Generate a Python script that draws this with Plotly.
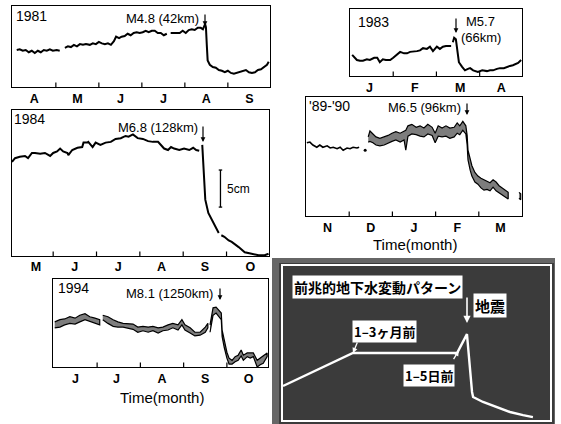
import plotly.graph_objects as go

W, H = 561, 424
FONT = "Liberation Sans, Arial, sans-serif"
JFONT = "Noto Sans CJK JP, Noto Sans CJK SC, sans-serif"

# ---------------- data (x = months from start of axis, y = water level in cm) ---------------
m81_x = [0.09,0.16,0.23,0.30,0.37,0.44,0.51,0.58,0.65,0.72,0.79,0.86,0.93,1.02,1.09,None,
         1.21,1.28,1.35,1.42,1.49,1.56,1.63,1.70,1.79,1.86,1.93,2.00,2.07,2.14,2.21,2.28,2.35,2.40,2.47,2.53,
         2.60,2.67,2.74,2.81,2.88,2.95,3.02,3.09,3.16,3.23,3.30,3.37,3.44,3.51,3.58,None,
         3.67,3.74,3.81,3.88,3.95,4.02,4.09,4.16,4.23,4.30,4.37,4.42,4.47,4.49,4.51,4.53,4.58,4.65,4.72,4.79,
         4.86,4.93,5.00,5.07,5.14,5.21,5.28,5.35,5.42,5.49,5.56,5.63,5.70,5.77,5.84,5.91,5.95]
m81_y = [5.0,5.1,4.9,5.0,4.7,4.9,4.6,4.9,4.7,5.0,4.9,5.1,4.9,5.0,4.9,None,
         5.3,5.5,5.4,5.7,5.5,5.8,5.7,5.8,5.7,5.9,5.8,6.1,5.9,5.8,5.9,5.7,6.2,6.8,6.6,6.8,
         6.9,7.2,7.0,7.3,7.4,7.3,7.4,7.6,7.4,7.6,7.6,7.3,7.3,7.0,7.2,None,
         7.3,7.3,7.4,7.3,7.6,7.3,7.7,7.8,7.7,8.0,8.0,7.8,8.5,8.1,5.7,3.6,3.0,2.7,2.6,2.3,
         2.2,2.0,2.2,1.9,1.8,1.9,2.0,2.2,2.3,2.0,1.9,2.0,2.3,2.4,2.7,3.0,3.4]

m83_x = [0.05,0.16,0.23,0.30,0.39,0.46,0.56,0.63,0.69,0.76,0.83,0.93,1.00,1.09,1.16,1.25,1.32,1.39,1.46,1.55,
         1.62,1.69,1.78,1.85,1.92,2.01,2.08,2.15,2.22,2.27,2.34,None,
         2.38,2.41,2.45,2.48,2.52,2.59,2.66,2.73,2.78,2.85,2.89,2.96,3.06,3.13,3.17,3.24,3.31,3.40,3.47,3.56,
         3.63,3.70,3.77,3.84,3.89,3.96]
m83_y = [3.0,2.3,2.2,2.2,2.4,2.3,2.6,2.6,2.0,2.4,2.3,2.3,2.6,3.0,3.4,3.2,3.2,3.4,3.4,3.5,
         3.6,3.9,3.8,4.1,3.5,4.1,3.8,4.1,4.2,4.2,4.2,None,
         4.7,5.3,5.1,3.6,2.0,1.4,0.9,1.1,1.2,0.9,0.8,0.7,0.9,0.8,0.8,0.9,0.9,1.1,1.2,1.2,
         1.4,1.5,1.6,1.8,1.9,2.3]

m84_x = [0.05,0.12,0.23,0.35,0.42,0.51,0.58,0.70,0.81,0.93,1.00,1.09,1.16,1.23,1.33,1.35,1.44,1.56,1.67,1.70,
         1.79,1.81,1.91,1.98,2.09,2.21,2.33,2.44,2.56,2.67,2.74,2.84,2.95,3.07,3.19,3.30,3.42,3.49,3.56,3.65,
         3.72,3.79,3.91,4.02,4.14,4.23,4.30,4.37,None,
         4.44,4.47,4.49,4.51,4.58,4.70,4.82,None,
         4.88,4.95,5.05,5.12,5.28,5.42,5.58,5.74,5.88,5.97]
m84_y = [12.7,13.2,13.4,13.5,13.2,13.9,13.9,13.8,13.9,13.5,13.9,14.1,14.5,14.1,13.9,13.6,14.3,14.6,14.7,15.3,
         15.3,15.4,14.7,15.3,15.0,15.3,15.4,15.8,15.9,16.2,16.1,16.4,15.9,15.8,15.5,15.4,15.4,15.0,14.5,14.3,
         14.7,14.5,14.3,14.5,14.3,14.6,14.3,14.2,None,
         15.0,12.0,9.9,7.6,5.8,4.5,3.1,None,
         2.8,2.6,2.1,1.9,1.2,0.5,0.3,0.1,0.1,0.3]

m89_line_x = [0.02,0.09,0.16,0.25,0.32,0.39,0.49,0.56,0.63,0.72,0.79,0.86,0.95,1.02,1.09,1.18,1.23]
m89_line_y = [9.9,10.0,9.6,9.3,9.6,9.3,9.5,9.2,9.3,9.1,9.3,8.9,9.2,9.1,9.3,9.2,9.3]
m89_dot_x = [1.37]
m89_dot_y = [8.9]
m89_x = [1.44,1.48,1.55,1.62,1.71,1.81,1.90,1.99,2.08,2.18,2.27,2.31,2.36,2.45,2.55,2.64,2.73,2.82,2.92,2.99,
         3.06,3.15,3.24,3.33,3.43,3.50,3.56,3.63,3.70,3.73,3.75,3.80,3.84,3.91,3.98,4.05,4.12,4.19,4.26,4.33,
         4.40,4.47,4.54,4.61,4.68,None,4.93,4.97]
m89_hi = [10.7,11.5,11.1,10.7,10.5,10.7,10.9,11.2,11.4,11.2,11.5,11.6,12.2,12.4,12.0,12.2,11.9,12.4,12.0,11.2,
          12.2,11.9,12.2,11.9,12.0,12.6,12.2,12.8,12.2,10.9,8.9,7.6,6.8,5.9,5.4,5.1,4.9,4.7,4.5,4.9,
          4.6,4.1,3.8,3.5,3.2,None,3.2,3.0]
m89_lo = [10.0,10.1,9.9,9.6,9.5,9.6,9.9,10.1,10.3,10.0,10.3,8.9,10.8,11.1,11.0,10.8,10.7,11.1,10.9,9.9,
          10.8,10.7,10.8,10.5,10.7,11.2,11.0,11.6,11.1,9.6,7.6,6.2,5.4,4.6,4.3,3.8,3.5,3.6,3.4,3.9,
          3.4,3.1,2.8,2.6,2.3,None,2.4,2.2]

m94_x = [0.02,0.14,0.25,0.37,0.49,0.60,0.72,0.83,0.95,1.06,None,
         1.13,1.25,1.37,1.48,1.60,1.71,1.83,1.94,2.06,2.18,2.29,2.41,2.52,2.64,2.75,2.87,2.96,3.03,3.15,3.26,
         3.38,3.50,3.56,None,
         3.61,3.66,3.68,3.75,3.80,3.87,3.89,3.94,4.00,4.05,4.12,4.19,4.26,4.33,4.38,4.47,4.54,4.61,4.70,4.77,
         4.84,4.93]
m94_hi = [6.1,6.4,6.5,6.8,6.6,7.0,7.2,6.8,6.6,6.4,None,
          7.0,6.8,6.4,6.1,5.9,5.9,5.8,5.4,5.5,5.4,5.5,5.3,5.4,5.7,5.9,5.7,6.4,5.7,5.3,4.7,
          4.7,5.4,5.9,None,
          5.7,7.3,8.0,8.1,7.8,7.3,5.0,3.4,2.0,1.2,0.9,1.4,1.6,2.3,1.6,1.9,1.9,1.9,0.9,1.2,
          1.4,1.9]
m94_lo = [5.3,5.4,5.7,5.9,5.8,6.1,6.4,6.1,5.9,5.7,None,
          6.4,5.9,5.5,5.4,5.4,5.3,5.1,4.7,4.9,4.7,4.9,4.6,4.9,5.0,5.3,5.0,5.7,5.0,4.6,4.2,
          4.3,4.7,5.3,None,
          4.7,6.4,7.0,7.3,7.0,6.4,4.1,2.6,1.2,0.4,0.4,0.7,0.9,1.5,0.9,1.4,1.2,1.4,0.0,0.3,
          0.5,1.4]

# schematic precursor pattern (arbitrary units 0-100)
pat_x = [0, 26.2, 65.2, 68.9, 70.8, 71.2, 74.9, 80.1, 85.0, 89.9, 93.6]
pat_y = [22.1, 43.5, 43.5, 55.8, 18.2, 14.9, 11.7, 8.4, 5.2, 3.2, 1.9]

# tick labels (mid-month) and month boundaries (tick marks)
lab81 = ["A", "M", "J", "J", "A", "S"]
pos81 = [0.5, 1.5, 2.5, 3.5, 4.5, 5.5]
bnd81 = [1, 2, 3, 4, 5]
lab83 = ["J", "F", "M", "A"]
pos83 = [0.45, 1.5, 2.55, 3.5]
bnd83 = [1, 2, 3]
lab84 = ["M", "J", "J", "A", "S", "O"]
pos84 = [0.6, 1.5, 2.5, 3.5, 4.5, 5.55]
bnd84 = [1, 2, 3, 4, 5]
lab89 = ["N", "D", "J", "F", "M"]
pos89 = [0.5, 1.5, 2.5, 3.5, 4.5]
bnd89 = [1, 2, 3, 4]
lab94 = ["J", "J", "A", "S", "O"]
pos94 = [0.5, 1.45, 2.5, 3.5, 4.5]
bnd94 = [1, 2, 3, 4]

# ---------------- helpers ----------------
def px(x):
    return x / W

def py(y):
    return 1 - y / H

def split(xs, *ys):
    segs, cur = [], [[] for _ in range(len(ys) + 1)]
    for i, x in enumerate(xs):
        if x is None:
            if cur[0]:
                segs.append(cur)
            cur = [[] for _ in range(len(ys) + 1)]
        else:
            cur[0].append(x)
            for k, y in enumerate(ys):
                cur[k + 1].append(y[i])
    if cur[0]:
        segs.append(cur)
    return segs

fig = go.Figure()

def line(xs, ys, n, width=2.0):
    fig.add_trace(go.Scatter(x=xs, y=ys, mode="lines", xaxis="x%d" % n, yaxis="y%d" % n,
                             line=dict(color="black", width=width), showlegend=False, hoverinfo="skip"))

def band(xs, hi, lo, n):
    for sx, sh, sl in split(xs, hi, lo):
        fig.add_trace(go.Scatter(x=sx + sx[::-1], y=sh + sl[::-1], mode="lines", fill="toself",
                                 fillcolor="#7d7d7d", xaxis="x%d" % n, yaxis="y%d" % n,
                                 line=dict(color="black", width=1.2), showlegend=False, hoverinfo="skip"))

line(m81_x, m81_y, 1)
line(m83_x, m83_y, 2)
line(m84_x, m84_y, 3)
line(m89_line_x, m89_line_y, 4, 1.6)
fig.add_trace(go.Scatter(x=m89_dot_x, y=m89_dot_y, mode="markers", xaxis="x4", yaxis="y4",
                         marker=dict(color="black", size=3), showlegend=False, hoverinfo="skip"))
band(m89_x, m89_hi, m89_lo, 4)
band(m94_x, m94_hi, m94_lo, 5)
fig.add_trace(go.Scatter(x=pat_x, y=pat_y, mode="lines", xaxis="x6", yaxis="y6",
                         line=dict(color="white", width=2.4), showlegend=False, hoverinfo="skip"))

# ---------------- axes ----------------
boxes = {
    1: (12, 270, 6, 87),
    2: (350, 522, 9, 76),
    3: (12, 269, 110, 256),
    4: (306, 522, 97, 216),
    5: (53, 268, 279, 367),
    6: (283, 550, 266, 420),
}
xr = {1: [-0.02, 5.98], 2: [0.0, 3.98], 3: [0.05, 5.98], 4: [0.0, 5.0], 5: [-0.02, 4.95], 6: [0, 100]}
yr = {1: [0, 10.95], 2: [0.14, 9.19], 3: [0, 19.7], 4: [0, 16.1], 5: [0, 11.9], 6: [0, 100]}
labs = {1: (pos81, lab81, bnd81), 2: (pos83, lab83, bnd83),
        3: (pos84, lab84, bnd84), 4: (pos89, lab89, bnd89),
        5: (pos94, lab94, bnd94)}
standoff = {1: 0, 2: 0, 3: -1, 4: 0, 5: 0}

layout = dict(width=W, height=H, autosize=False, margin=dict(l=0, r=0, t=0, b=0),
              paper_bgcolor="white", plot_bgcolor="rgba(0,0,0,0)", showlegend=False)

for n, (x0, x1, y0, y1) in boxes.items():
    sfx = "" if n == 1 else str(n)
    lc = "white" if n == 6 else "black"
    xa = dict(domain=[px(x0), px(x1)], range=xr[n], anchor="y" + sfx, showline=True, mirror=True,
              linecolor=lc, linewidth=1.3 if n != 6 else 1.5, showgrid=False, zeroline=False,
              fixedrange=True)
    ya = dict(domain=[py(y1), py(y0)], range=yr[n], anchor="x" + sfx, showline=True, mirror=True,
              linecolor=lc, linewidth=1.3 if n != 6 else 1.5, showgrid=False, zeroline=False,
              showticklabels=False, ticks="", fixedrange=True)
    if n in labs:
        tv, tt, mv = labs[n]
        xa.update(ticks="", tickmode="array", tickvals=tv, ticktext=tt,
                  tickfont=dict(family=FONT, size=12.5, color="black", weight="bold"),
                  ticklabelstandoff=standoff[n])
    else:
        xa.update(showticklabels=False, ticks="")
    layout["xaxis" + sfx] = xa
    layout["yaxis" + sfx] = ya

fig.update_layout(**layout)

# month-boundary tick marks (inside, at bottom edge)
for n, (tv, tt, mv) in labs.items():
    hpx = boxes[n][3] - boxes[n][2]
    for v in mv:
        fig.add_shape(type="line", xref="x%d" % n if n > 1 else "x", yref=("y%d domain" % n) if n > 1 else "y domain",
                      x0=v, x1=v, y0=0, y1=4.5 / hpx, line=dict(color="black", width=1.2))

# ---------------- background of schematic panel ----------------
fig.add_shape(type="rect", xref="paper", yref="paper", x0=px(272), x1=px(555), y0=py(424), y1=py(258),
              fillcolor="#666666", line=dict(width=0), layer="below")
fig.add_shape(type="rect", xref="paper", yref="paper", x0=px(279), x1=px(554), y0=py(424), y1=py(263),
              fillcolor="#3b3b3b", line=dict(width=0), layer="below")

# ---------------- 5cm scale bar (1984 panel) ----------------
for (a, b, c, d) in [(4.86, 6.6, 4.86, 11.6), (4.82, 6.6, 4.90, 6.6), (4.82, 11.6, 4.90, 11.6)]:
    fig.add_shape(type="line", xref="x3", yref="y3", x0=a, y0=b, x1=c, y1=d,
                  line=dict(color="black", width=1.3))

# ---------------- text annotations ----------------
def text(t, x, y, anchor="left", size=13, family=FONT, color="black", bg=None, weight="normal"):
    a = dict(text=t, x=px(x), y=py(y), xref="paper", yref="paper", xanchor=anchor, yanchor="middle",
             showarrow=False, font=dict(family=family, size=size, color=color, weight=weight))
    if bg:
        a.update(bgcolor=bg, borderpad=1)
    fig.add_annotation(**a)

def arrow(x, yhead, ytail, color="black", width=1.2, size=0.8, dx=0):
    fig.add_annotation(x=px(x), y=py(yhead), xref="paper", yref="paper", text="", showarrow=True,
                       ax=dx, ay=-(yhead - ytail), arrowhead=2, arrowsize=size, arrowwidth=width,
                       arrowcolor=color)

text("1981", 14, 16, size=14)
text("M4.8 (42km)", 201, 19, anchor="right")
arrow(205, 26, 13)

text("1983", 356, 22, size=14)
text("M5.7", 464, 21)
text("(66km)", 459, 37)
arrow(456, 33, 17)

text("1984", 12, 119, size=14)
text("M6.8 (128km)", 200, 128, anchor="right")
arrow(203, 142, 125)
fig.add_annotation(text="5cm", x=4.96, y=9.1, xref="x3", yref="y3", xanchor="left", yanchor="middle",
                   showarrow=False, font=dict(family=FONT, size=12, color="black"))

text("'89-'90", 307, 106, size=14)
text("M6.5 (96km)", 463, 107, anchor="right")
arrow(467, 115, 102)
text("Time(month)", 415, 244, anchor="center", size=15)

text("1994", 56, 288, size=14)
text("M8.1 (1250km)", 215, 293, anchor="right")
arrow(220, 300, 287)
text("Time(month)", 162, 397, anchor="center", size=15)

# schematic texts
text("前兆的地下水変動パターン", 377, 287, anchor="center", size=14, family=JFONT, bg="white", weight="bold")
text("地震", 490, 305, anchor="center", size=15, family=JFONT, bg="white", weight="bold")
text("1–3ヶ月前", 384, 331, anchor="center", size=13, family=JFONT, bg="white", weight="bold")
text("1–5日前", 429, 375, anchor="center", size=13, family=JFONT, bg="white", weight="bold")
arrow(467, 323, 296, color="white", width=1.6, size=0.9)
fig.add_annotation(x=26.2, y=43.5, xref="x6", yref="y6", text="", showarrow=True, ax=5, ay=-12,
                   arrowhead=2, arrowsize=0.8, arrowwidth=1.3, arrowcolor="white")
fig.add_annotation(x=65.8, y=45.0, xref="x6", yref="y6", text="", showarrow=True, ax=-6, ay=10,
                   arrowhead=2, arrowsize=0.8, arrowwidth=1.3, arrowcolor="white")

fig.write_html("out.html")
